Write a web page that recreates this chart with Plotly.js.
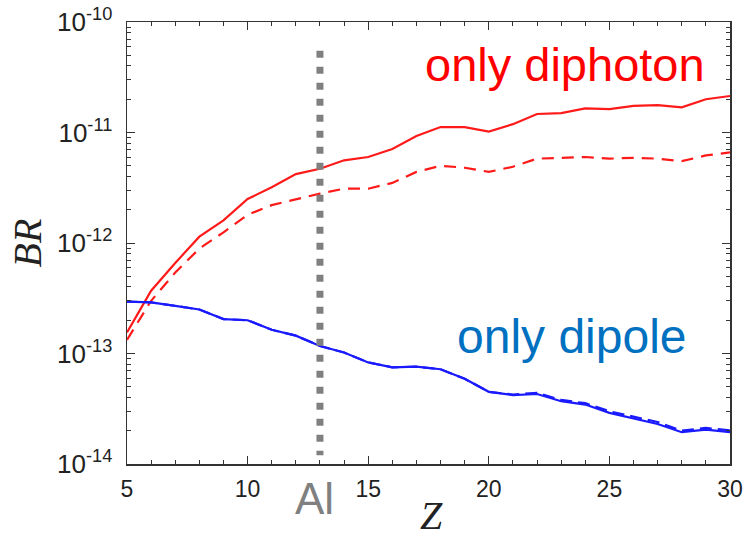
<!DOCTYPE html>
<html>
<head>
<meta charset="utf-8">
<script src="https://cdn.plot.ly/plotly-3.0.1.min.js"></script>
<style>html,body{margin:0;padding:0;background:#fff;}#chart{width:745px;height:536px;}</style>
</head>
<body>
<div id="chart"></div>
<script>
// Data
const Z = [5,6,7,8,9,10,11,12,13,14,15,16,17,18,19,20,21,22,23,24,25,26,27,28,29,30];
const diphotonSolid = [1.55e-13,3.7e-13,6.6e-13,1.14e-12,1.6e-12,2.5e-12,3.2e-12,4.2e-12,4.7e-12,5.6e-12,6.0e-12,7.1e-12,9.3e-12,1.12e-11,1.12e-11,1.02e-11,1.19e-11,1.47e-11,1.5e-11,1.65e-11,1.63e-11,1.74e-11,1.77e-11,1.69e-11,2.0e-11,2.14e-11];
const diphotonDashed = [1.33e-13,3.0e-13,5.4e-13,8.9e-13,1.25e-12,1.8e-12,2.2e-12,2.5e-12,2.8e-12,3.1e-12,3.1e-12,3.5e-12,4.4e-12,5.0e-12,4.8e-12,4.4e-12,4.9e-12,5.8e-12,5.9e-12,6.0e-12,5.8e-12,5.9e-12,5.8e-12,5.5e-12,6.2e-12,6.6e-12];
const dipoleSolid = [2.95e-13,2.9e-13,2.7e-13,2.5e-13,2.05e-13,2.0e-13,1.64e-13,1.45e-13,1.17e-13,1.02e-13,8.3e-14,7.5e-14,7.6e-14,7.2e-14,5.9e-14,4.5e-14,4.2e-14,4.3e-14,3.7e-14,3.45e-14,2.9e-14,2.6e-14,2.3e-14,1.94e-14,2.05e-14,1.94e-14];
const dipoleDashed = [2.95e-13,2.9e-13,2.7e-13,2.5e-13,2.05e-13,2.0e-13,1.64e-13,1.45e-13,1.17e-13,1.02e-13,8.3e-14,7.5e-14,7.6e-14,7.2e-14,5.9e-14,4.5e-14,4.25e-14,4.4e-14,3.8e-14,3.55e-14,3.0e-14,2.7e-14,2.4e-14,2.0e-14,2.12e-14,2.02e-14];
const aluminiumZ = 13;
const aluminiumLineY = [5.5e-11, 1.2e-14];
const yTickVals = [1e-14,1e-13,1e-12,1e-11,1e-10];
const yTickText = ['10<sup>-14</sup>','10<sup>-13</sup>','10<sup>-12</sup>','10<sup>-11</sup>','10<sup>-10</sup>'];
const xTickVals = [5,10,15,20,25,30];
const xMinorVals = [6,7,8,9,11,12,13,14,16,17,18,19,21,22,23,24,26,27,28,29];
const yMinorVals = [];
[-14,-13,-12,-11].forEach(function(e){ for (let m=2;m<=9;m++) yMinorVals.push(m*Math.pow(10,e)); });

const traces = [
  {x: Z, y: diphotonSolid, mode:'lines', line:{color:'#ff1a1a', width:2.2}, showlegend:false},
  {x: Z, y: diphotonDashed, mode:'lines', line:{color:'#ff1a1a', width:2.2, dash:'12px,8px'}, showlegend:false},
  {x: Z, y: dipoleDashed, mode:'lines', line:{color:'#1a1aff', width:2.2, dash:'12px,6px'}, showlegend:false},
  {x: Z, y: dipoleSolid, mode:'lines', line:{color:'#1a1aff', width:2.2}, showlegend:false},
  {x: [aluminiumZ, aluminiumZ], y: aluminiumLineY, mode:'lines', line:{color:'#808080', width:7, dash:'7px,9px'}, showlegend:false}
];

const sans = 'Liberation Sans, Arial, sans-serif';
const serif = 'Liberation Serif, Times New Roman, serif';
const layout = {
  width:745, height:536,
  margin:{l:127, r:15, t:22, b:72},
  paper_bgcolor:'#fff', plot_bgcolor:'#fff',
  xaxis:{
    range:[5,30], tickvals:xTickVals, ticktext:xTickVals.map(String),
    ticks:'inside', ticklen:8, tickwidth:1, tickcolor:'#333',
    minor:{tickvals:xMinorVals, ticks:'inside', ticklen:4, tickcolor:'#333', tickwidth:1},
    showline:true, linecolor:'#333', linewidth:1.5, mirror:'ticks',
    showgrid:false, zeroline:false, tickfont:{family:sans, size:23, color:'#222'},
    ticklabelstandoff:4
  },
  yaxis:{
    type:'log', range:[-14,-10], tickvals:yTickVals, ticktext:yTickText,
    ticks:'inside', ticklen:8, tickwidth:1, tickcolor:'#333',
    minor:{tickvals:yMinorVals, ticks:'inside', ticklen:4, tickcolor:'#333', tickwidth:1},
    showline:true, linecolor:'#333', linewidth:1.5, mirror:'ticks',
    showgrid:false, zeroline:false, tickfont:{family:sans, size:26, color:'#222'},
    ticklabelstandoff:8,
    title:{text:'<i>BR</i>', font:{family:serif, size:40, color:'#222'}, standoff:3}
  },
  annotations:[
    {text:'<i>Z</i>', xref:'paper', yref:'paper', x:0.505, y:-0.06, xanchor:'center', yanchor:'top', showarrow:false,
     font:{family:serif, size:40, color:'#222'}},
    {text:'only diphoton', xref:'paper', yref:'paper', x:0.962, y:0.903, xanchor:'right', yanchor:'middle', showarrow:false,
     font:{family:sans, size:47, color:'#ff0000'}},
    {text:'only dipole', xref:'paper', yref:'paper', x:0.932, y:0.289, xanchor:'right', yanchor:'middle', showarrow:false,
     font:{family:sans, size:48, color:'#0070c0'}},
    {text:'Al', xref:'x', yref:'paper', x:aluminiumZ, xshift:-5, y:-0.018, xanchor:'center', yanchor:'top', showarrow:false,
     font:{family:sans, size:44, color:'#808080'}}
  ]
};
Plotly.newPlot('chart', traces, layout, {displayModeBar:false, staticPlot:true});
</script>
</body>
</html>
